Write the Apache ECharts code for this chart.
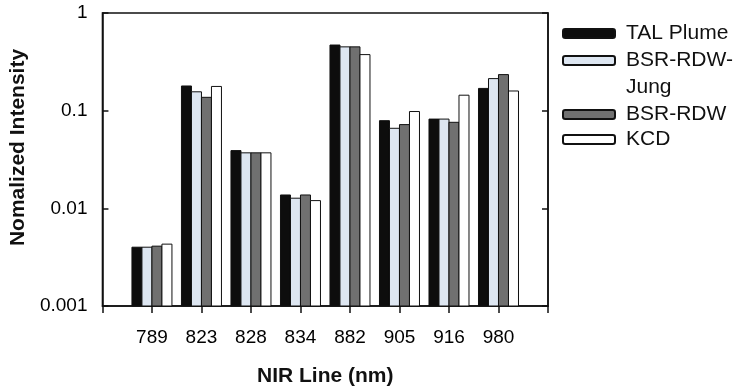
<!DOCTYPE html>
<html>
<head>
<meta charset="utf-8">
<script src="https://cdn.jsdelivr.net/npm/echarts@6/dist/echarts.min.js"></script>
<style>
  html, body { margin: 0; padding: 0; background: #fff; }
  #chart { width: 739px; height: 392px; }
</style>
</head>
<body>
<div id="chart"></div>
<script>
// NIR lines (nm) and normalized intensities
const lines = ['789', '823', '828', '834', '882', '905', '916', '980'];
const talPlume = [0.0040, 0.179, 0.039, 0.0137, 0.47, 0.079, 0.082, 0.169];
const bsrRdwJung = [0.0040, 0.156, 0.037, 0.0127, 0.45, 0.066, 0.082, 0.213];
const bsrRdw = [0.0041, 0.137, 0.037, 0.0137, 0.45, 0.072, 0.076, 0.234];
const kcd = [0.0043, 0.177, 0.037, 0.0120, 0.375, 0.098, 0.144, 0.159];
const yMin = 0.001;
const yMax = 1;

const font = 'Liberation Sans, Arial, sans-serif';
// empty slot at each end so the groups sit on 1..8 of a 0..9 axis
const cats = [''].concat(lines, ['']);
const barW = 10;

// log axis bars in echarts grow from 1, so draw them from the axis floor
function bar(name, color, values, slot) {
  return {
    name: name,
    type: 'custom',
    itemStyle: { color: color, borderColor: '#111', borderWidth: 1 },
    encode: { x: 0, y: 1 },
    renderItem: function (params, api) {
      const top = api.coord([api.value(0), api.value(1)]);
      const base = api.coord([api.value(0), yMin]);
      return {
        type: 'rect',
        shape: { x: top[0] + (slot - 2) * barW, y: top[1], width: barW, height: base[1] - top[1] },
        style: api.style()
      };
    },
    data: values.map((v, i) => [lines[i], v])
  };
}

function legendAt(name, top, extra) {
  return Object.assign({
    data: [name],
    orient: 'vertical',
    left: 562,
    top: top,
    padding: 0,
    icon: 'roundRect',
    itemWidth: 52,
    itemHeight: 9,
    selectedMode: false,
    textStyle: { fontFamily: font, fontSize: 21, color: '#111', lineHeight: 27, padding: [0, 0, 0, 6] }
  }, extra || {});
}

const chart = echarts.init(document.getElementById('chart'));
chart.setOption({
  animation: false,
  grid: { left: 100, right: 191, top: 13, bottom: 83, show: true, borderColor: '#111', borderWidth: 1.5, backgroundColor: 'transparent' },
  legend: [
    legendAt('TAL Plume', 20),
    // blank first line so the icon stays level with "BSR-RDW-"
    legendAt('BSR-RDW-Jung', 20, {
      formatter: () => ' \nBSR-RDW-\nJung'
    }),
    legendAt('BSR-RDW', 101),
    legendAt('KCD', 126)
  ],
  xAxis: {
    type: 'category',
    data: cats,
    boundaryGap: false,
    name: 'NIR Line (nm)',
    nameLocation: 'middle',
    nameGap: 60,
    nameTextStyle: { fontFamily: font, fontSize: 21, fontWeight: 'bold', color: '#111' },
    axisLine: { lineStyle: { color: '#111', width: 1.5 } },
    axisTick: { length: 7, lineStyle: { color: '#111', width: 1.5 } },
    axisLabel: { fontFamily: font, fontSize: 19, color: '#000', margin: 22, interval: 0 },
    splitLine: { show: false }
  },
  yAxis: [
    {
      type: 'log',
      logBase: 10,
      min: yMin,
      max: yMax,
      name: 'Nomalized Intensity',
      nameLocation: 'middle',
      nameGap: 61,
      nameTextStyle: { fontFamily: font, fontSize: 21, fontWeight: 'bold', color: '#111', padding: [0, 0, 0, 24] },
      axisLine: { show: true, lineStyle: { color: '#111', width: 1.5 } },
      axisTick: { show: true, inside: true, length: 6, lineStyle: { color: '#111', width: 1.5 } },
      axisLabel: { fontFamily: font, fontSize: 19, color: '#000', margin: 15 },
      splitLine: { show: false },
      minorTick: { show: false }
    },
    {
      type: 'log',
      logBase: 10,
      min: yMin,
      max: yMax,
      position: 'right',
      axisLine: { show: true, lineStyle: { color: '#111', width: 1.5 } },
      axisTick: { show: true, inside: true, length: 6, lineStyle: { color: '#111', width: 1.5 } },
      axisLabel: { show: false },
      splitLine: { show: false }
    }
  ],
  series: [
    bar('TAL Plume', '#0d0d0d', talPlume, 0),
    bar('BSR-RDW-Jung', '#dde6f1', bsrRdwJung, 1),
    bar('BSR-RDW', '#707070', bsrRdw, 2),
    bar('KCD', '#ffffff', kcd, 3)
  ]
});
</script>
</body>
</html>
